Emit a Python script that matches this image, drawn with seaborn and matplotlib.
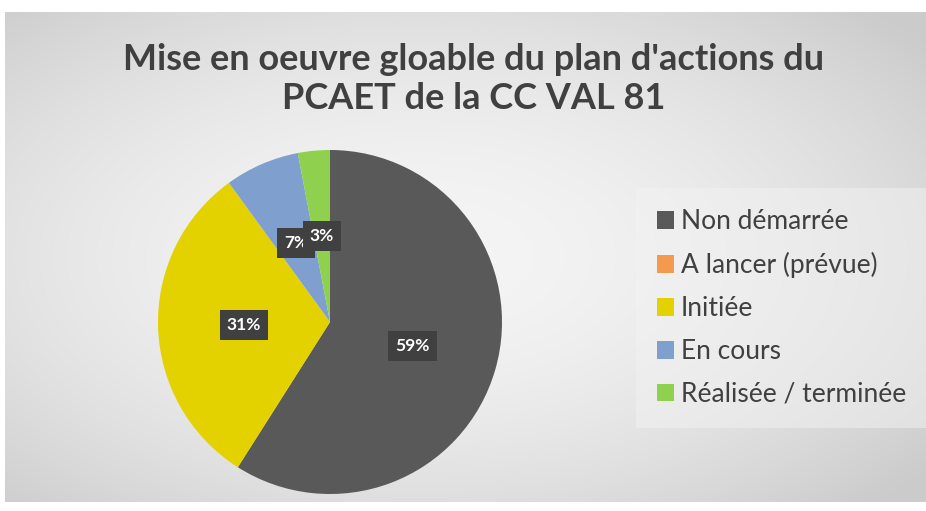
import numpy as np
import matplotlib
matplotlib.use("Agg")
import matplotlib.pyplot as plt
import seaborn as sns
from matplotlib.patches import Patch

categories = ["Non démarrée", "A lancer (prévue)", "Initiée", "En cours", "Réalisée / terminée"]
values = [59, 0, 31, 7, 3]
colors = ["#595959", "#f39a4e", "#e3d200", "#7f9fcf", "#8fd14f"]
title = "Mise en oeuvre gloable du plan d'actions du\nPCAET de la CC VAL 81"

sns.set_theme(style="white")
plt.rcParams['font.family'] = ['Lato', 'DejaVu Sans']

W, H = 926, 511
fig = plt.figure(figsize=(W / 100, H / 100), dpi=100)
fig.patch.set_facecolor("white")

# background with radial gradient
x0, y0, x1, y1 = 5, 12, 926, 502
bg = fig.add_axes([x0 / W, 1 - y1 / H, (x1 - x0) / W, (y1 - y0) / H])
yy, xx = np.mgrid[0:1:200j, 0:1:300j]
d = np.sqrt(((xx - 0.45) / 0.7) ** 2 + ((yy - 0.5) / 0.7) ** 2)
d = np.clip(d, 0, 1)
v = 0.96 - 0.16 * d ** 1.8
img = np.dstack([v, v, v])
bg.imshow(img, aspect="auto", extent=[0, 1, 0, 1], interpolation="bilinear")
bg.set_axis_off()

# pie axes
cx, cy, r = 330, 322, 172
ax = fig.add_axes([(cx - r) / W, 1 - (cy + r) / H, 2 * r / W, 2 * r / H])
ax.set_axis_off()

wedges, texts, autotexts = ax.pie(
    values, colors=colors, startangle=90, counterclock=False,
    autopct=lambda p: f"{p:.0f}%" if p > 0.5 else "",
    pctdistance=0.5, wedgeprops=dict(linewidth=0),
    textprops=dict(color="white", fontsize=12.5, fontweight="bold"))
for t in autotexts:
    if t.get_text():
        t.set_bbox(dict(boxstyle="square,pad=0.4", fc="#404040", ec="none"))
ax.set_xlim(-1, 1)
ax.set_ylim(-1, 1)
ax.set_aspect("auto")

fig.text(474 / W, 1 - 79 / H, title, ha="center", va="center",
         fontsize=26, fontweight="bold", color="#404040", linespacing=1.2)

handles = [Patch(facecolor=c, edgecolor="none") for c in colors]
leg = fig.legend(handles, categories, loc="center left",
                 bbox_to_anchor=(644 / W, 1 - 308 / H), frameon=True,
                 fontsize=19, labelcolor="#404040", handlelength=0.65, handleheight=0.65,
                 handletextpad=0.25, labelspacing=0.68, borderpad=0.5, borderaxespad=0)
leg.get_frame().set_facecolor("#f2f2f2")
leg.get_frame().set_alpha(0.5)
leg.get_frame().set_edgecolor("none")
leg.get_frame().set_boxstyle("square")

fig.savefig("out.png", dpi=100)
